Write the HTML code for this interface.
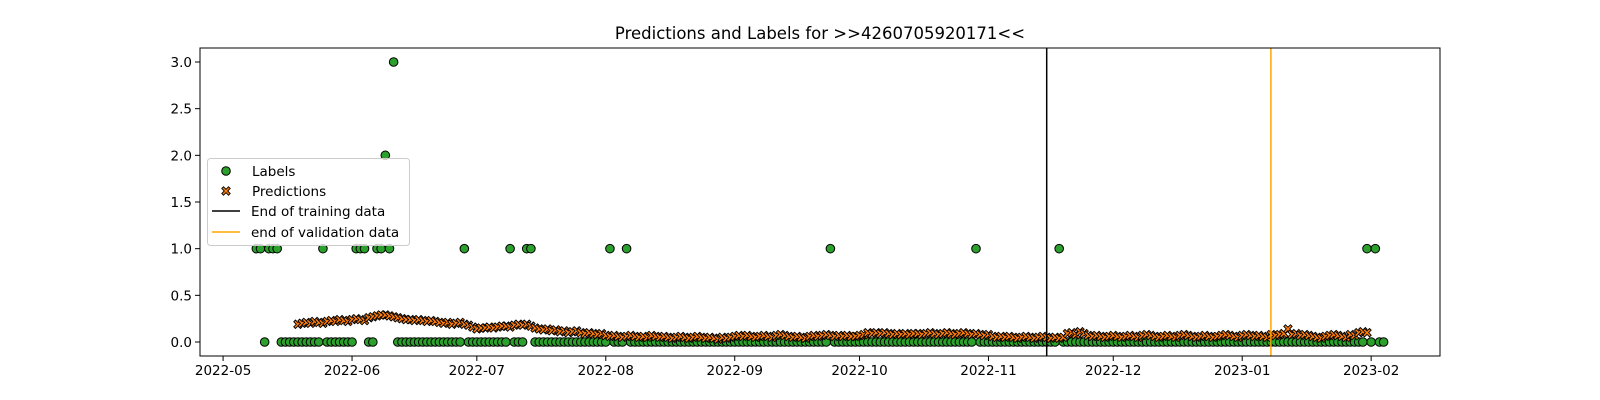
<!DOCTYPE html>
<html><head><meta charset="utf-8">
<style>
html,body{margin:0;padding:0;background:#fff;}
svg{display:block;font-family:"DejaVu Sans","Liberation Sans",sans-serif;}
</style></head>
<body>
<svg id="chart" width="1600" height="400" viewBox="0 0 1600 400">
<rect x="0" y="0" width="1600" height="400" fill="#fff"/>
<text x="820" y="39" text-anchor="middle" font-size="16.5" fill="#000">Predictions and Labels for &gt;&gt;4260705920171&lt;&lt;</text>
<g id="marks"></g>
<g id="axes"></g>
</svg>
<script>
// Day offsets are counted from 2022-05-01
const labelStartDay = 8;
const labelValues = [
1,1,0,1,1,1,0,0,0,0,
0,0,0,0,0,0,1,0,0,0,
0,0,0,0,1,1,1,0,0,1,
1,2,1,3,0,0,0,0,0,0,
0,0,0,0,0,0,0,0,0,0,
1,0,0,0,0,0,0,0,0,0,
0,1,0,0,0,1,1,0,0,0,
0,0,0,0,0,0,0,0,0,0,
0,0,0,0,0,1,0,0,0,1,
0,0,0,0,0,0,0,0,0,0,
0,0,0,0,0,0,0,0,0,0,
0,0,0,0,0,0,0,0,0,0,
0,0,0,0,0,0,0,0,0,0,
0,0,0,0,0,0,0,0,1,0,
0,0,0,0,0,0,0,0,0,0,
0,0,0,0,0,0,0,0,0,0,
0,0,0,0,0,0,0,0,0,0,
0,0,0,1,0,0,0,0,0,0,
0,0,0,0,0,0,0,0,0,0,
0,0,0,1,0,0,0,0,0,0,
0,0,0,0,0,0,0,0,0,0,
0,0,0,0,0,0,0,0,0,0,
0,0,0,0,0,0,0,0,0,0,
0,0,0,0,0,0,0,0,0,0,
0,0,0,0,0,0,0,0,0,0,
0,0,0,0,0,0,0,0,0,0,
0,0,0,0,0,0,0,1,0,1,
0,0
];
const predStartDay = 18;
const predValues = [
0.19,0.20,0.21,0.20,0.22,0.21,0.20,0.22,0.23,0.22,0.24,0.23,0.22,0.24,0.25,0.24,0.23,0.26,0.27,0.28,0.29,0.29,0.28,0.27,
0.26,0.25,0.24,0.24,0.23,0.24,0.23,0.22,0.23,0.22,0.21,0.20,0.21,0.19,0.20,0.21,0.19,0.18,0.16,
0.14,0.15,0.15,0.16,0.15,0.16,0.17,0.17,0.16,0.18,0.19,0.18,0.19,0.17,0.15,0.14,0.13,0.14,0.12,0.13,
0.11,0.12,0.10,0.11,0.12,0.10,0.09,0.10,0.09,0.08,0.09,0.07,0.06,0.07,0.06,0.05,0.06,0.07,0.06,0.05,
0.06,0.05,0.07,0.06,0.05,0.06,0.05,0.04,0.05,0.06,0.05,0.04,0.05,0.06,0.05,0.04,0.05,0.04,0.03,0.05,0.04,0.05,0.06,0.07,0.06,0.07,0.06,0.05,0.06,0.07,
0.06,0.05,0.07,0.08,0.07,0.06,0.05,0.06,0.05,0.04,0.06,0.07,0.06,0.07,0.08,0.07,0.06,0.07,0.06,0.07,0.06,0.06,0.07,0.08,0.10,0.09,0.10,0.09,0.10,0.09,
0.08,0.09,0.08,0.09,0.08,0.09,0.09,0.08,0.09,0.10,0.09,0.08,0.09,0.10,0.09,0.08,0.09,0.10,0.09,0.08,0.09,0.08,0.07,0.08,0.06,0.05,0.06,0.05,0.06,0.05,0.04,0.05,0.06,0.05,0.04,0.05,0.06,0.05,
0.04,0.05,0.04,0.05,0.09,0.10,0.08,0.11,0.09,0.07,0.06,0.07,0.06,0.05,0.06,0.07,0.06,0.05,0.06,0.07,0.06,0.05,0.07,0.08,0.07,0.06,0.05,0.06,0.07,0.06,0.05,0.07,
0.08,0.07,0.06,0.05,0.06,0.07,0.06,0.05,0.06,0.07,0.08,0.07,0.06,0.05,0.07,0.08,0.07,0.06,0.07,0.06,0.05,0.08,0.07,0.08,0.09,0.14,0.08,0.09,0.07,0.08,0.07,0.06,0.05,0.04,0.06,0.07,0.08,0.07,0.06,0.05,0.08,0.07,0.10,0.11,0.10
];
const xTickLabels = ["2022-05","2022-06","2022-07","2022-08","2022-09","2022-10","2022-11","2022-12","2023-01","2023-02"];
const xTickDays = [0,31,61,92,123,153,184,214,245,276];
const yTickValues = [0,0.5,1,1.5,2,2.5,3];
const yTickLabels = ["0.0","0.5","1.0","1.5","2.0","2.5","3.0"];
const trainingEndDay = [198];
const validationEndDay = [251.9];

const L=200,R=1440,T=48,B=356;
const xMin=-5.55, xMax=292.55, yMin=-0.15, yMax=3.15;
const xs=d=>L+(d-xMin)/(xMax-xMin)*(R-L);
const ys=v=>B-(v-yMin)/(yMax-yMin)*(B-T);
const NS="http://www.w3.org/2000/svg";
const marks=document.getElementById('marks');
const axes=document.getElementById('axes');
function mk(tag,attrs,parent){const e=document.createElementNS(NS,tag);for(const k in attrs)e.setAttribute(k,attrs[k]);parent.appendChild(e);return e;}

// labels
labelValues.forEach((v,i)=>{
  const c=mk('circle',{cx:xs(labelStartDay+i),cy:ys(v),r:4.3,fill:'#2ca02c',stroke:'#000','stroke-width':1},marks);
  
  
});
function xPath(cx,cy,s){
  const a=s, b=s*0.4;
  const pts=[[-a,-a+b],[-a+b,-a],[0,-b],[a-b,-a],[a,-a+b],[b,0],[a,a-b],[a-b,a],[0,b],[-a+b,a],[-a,a-b],[-b,0]];
  return 'M'+pts.map(p=>(cx+p[0]).toFixed(2)+','+(cy+p[1]).toFixed(2)).join('L')+'Z';
}
predValues.forEach((v,i)=>{
  const p=mk('path',{d:xPath(xs(predStartDay+i),ys(v),4.2),fill:'#ff7f0e',stroke:'#000','stroke-width':0.9},marks);
  
  
});
// vertical lines
const tl=mk('line',{x1:xs(trainingEndDay[0]),x2:xs(trainingEndDay[0]),y1:T,y2:B,stroke:'#000','stroke-width':1.5},marks);


const vl=mk('line',{x1:xs(validationEndDay[0]),x2:xs(validationEndDay[0]),y1:T,y2:B,stroke:'#ffa500','stroke-width':1.5},marks);



// frame
const fr=mk('rect',{x:L,y:T,width:R-L,height:B-T,fill:'none',stroke:'#000','stroke-width':1},axes);


xTickDays.forEach((d,i)=>{
  const x=xs(d);
  const t=mk('line',{x1:x,x2:x,y1:B,y2:B+5,stroke:'#000','stroke-width':1},axes);
  
  
  const tx=mk('text',{x:x,y:B+19,'text-anchor':'middle','font-size':13.5,fill:'#000'},axes);
  tx.textContent=xTickLabels[i];
  
  
});
yTickValues.forEach((v,i)=>{
  const y=ys(v);
  const t=mk('line',{x1:L-5,x2:L,y1:y,y2:y,stroke:'#000','stroke-width':1},axes);
  
  
  const tx=mk('text',{x:L-8,y:y+5,'text-anchor':'end','font-size':13.5,fill:'#000'},axes);
  tx.textContent=yTickLabels[i];
  
  
});

// legend
const lg=mk('g',{},axes);


mk('rect',{x:207.5,y:158.5,width:202,height:87,rx:3,fill:'#fff','fill-opacity':0.8,stroke:'#ccc','stroke-width':1},lg);
const e1=mk('circle',{cx:226,cy:171,r:4.3,fill:'#2ca02c',stroke:'#000','stroke-width':1},lg);


const e2=mk('path',{d:xPath(226,191,4.2),fill:'#ff7f0e',stroke:'#000','stroke-width':0.9},lg);


const e3=mk('line',{x1:212,x2:240,y1:211,y2:211,stroke:'#000','stroke-width':1.5},lg);


const e4=mk('line',{x1:212,x2:240,y1:232,y2:232,stroke:'#ffa500','stroke-width':1.5},lg);


const legTexts=["Labels","Predictions","End of training data","end of validation data"];
const legY=[176,196,216,237];
legTexts.forEach((s,i)=>{
  const t=mk('text',{x:i<2?252:251,y:legY[i],'font-size':13.5,fill:'#000'},lg);
  t.textContent=s;
  
  
});
</script>
</body></html>
